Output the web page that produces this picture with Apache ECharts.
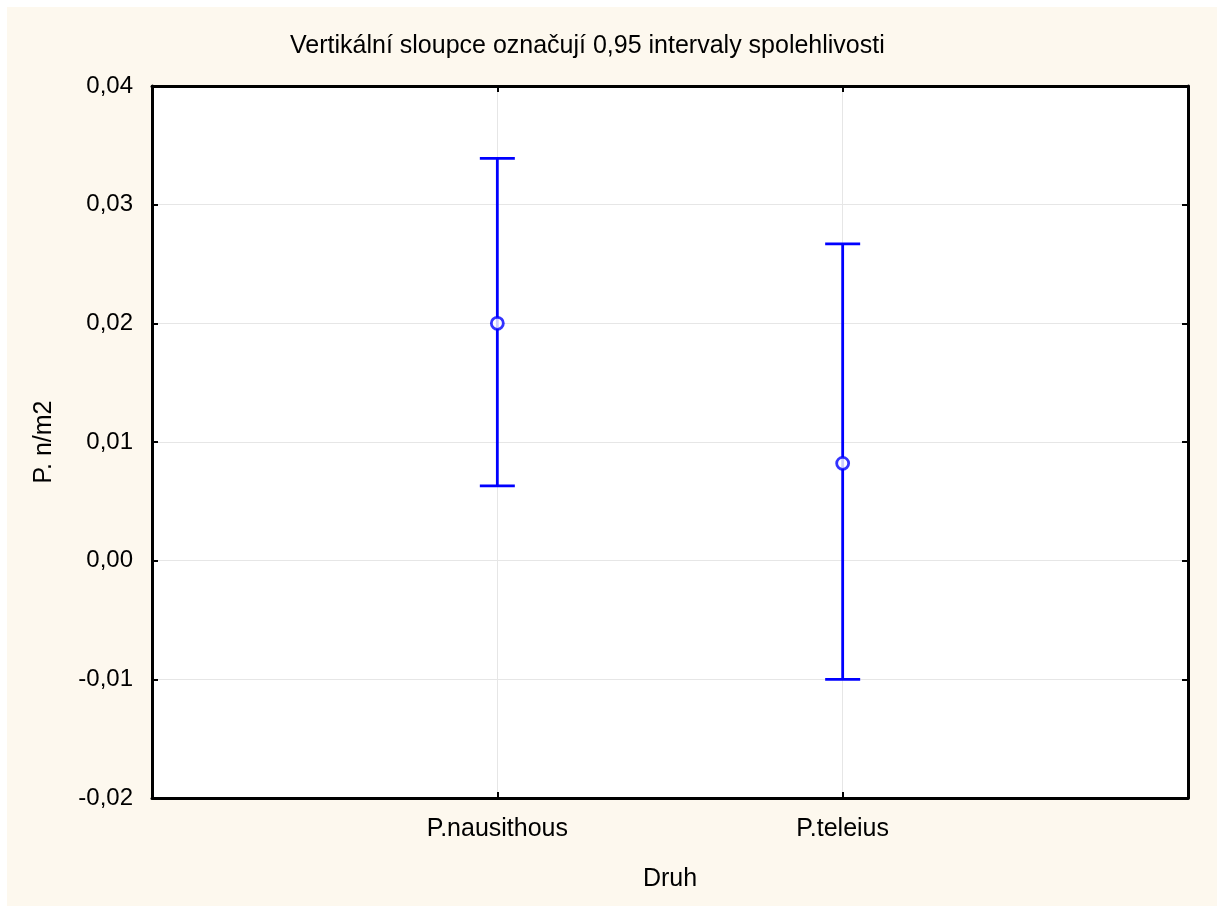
<!DOCTYPE html>
<html>
<head>
<meta charset="utf-8">
<script src="https://cdn.jsdelivr.net/npm/echarts@6/dist/echarts.min.js"></script>
<style>
html,body{margin:0;padding:0;background:#ffffff;}
#chart{position:absolute;left:7px;top:7px;width:1210px;height:899px;background:#fdf8ee;}
</style>
</head>
<body>
<div id="chart"></div>
<script>
var categories = ['P.nausithous', 'P.teleius'];
var means = [0.0200, 0.0082];
var lower = [0.0063, -0.0100];
var upper = [0.0339, 0.0267];
var yTicks = [-0.02, -0.01, 0.00, 0.01, 0.02, 0.03, 0.04];

var chart = echarts.init(document.getElementById('chart'));
var FONT = 'Liberation Sans, Arial, sans-serif';
var blue = '#0000ff';

function fmt(v){ return (Math.abs(v) < 1e-9 ? 0 : v).toFixed(2).replace('.', ','); }

var pts = categories.map(function(c, i){ return [i + 1, means[i]]; });
var bars = categories.map(function(c, i){ return [i + 1, lower[i], upper[i]]; });

var option = {
  animation: false,
  backgroundColor: '#fdf8ee',
  title: {
    text: 'Vertikální sloupce označují 0,95 intervaly spolehlivosti',
    left: 278, top: 22,
    textStyle: {fontFamily: FONT, fontSize: 25, fontWeight: 'normal', color: '#000'}
  },
  grid: {left: 145, right: 29, top: 79, bottom: 108, show: true, backgroundColor: '#ffffff', borderWidth: 0},
  xAxis: [{
    type: 'value', min: 0, max: 3, interval: 1,
    name: 'Druh', nameLocation: 'middle', nameGap: 69,
    nameTextStyle: {fontFamily: FONT, fontSize: 25, color: '#000'},
    axisLine: {show: true, onZero: false, lineStyle: {color: '#000', width: 3}},
    axisTick: {show: true, inside: true, length: 6, lineStyle: {color: '#000', width: 2}},
    axisLabel: {
      margin: 19, fontFamily: FONT, fontSize: 25, color: '#000',
      formatter: function(v){ var i = Math.round(v) - 1; return (i >= 0 && i < categories.length && Math.abs(v - Math.round(v)) < 1e-9) ? categories[i] : ''; }
    },
    splitLine: {show: true, lineStyle: {color: '#e6e6e6', width: 1}}
  }, {
    type: 'value', min: 0, max: 3, interval: 1, position: 'top',
    axisLine: {show: true, onZero: false, lineStyle: {color: '#000', width: 3}},
    axisTick: {show: true, inside: true, length: 6, lineStyle: {color: '#000', width: 2}},
    axisLabel: {show: false}, splitLine: {show: false}
  }],
  yAxis: [{
    type: 'value', min: yTicks[0], max: yTicks[yTicks.length - 1], interval: 0.01,
    name: 'P. n/m2', nameLocation: 'middle', nameGap: 95,
    nameTextStyle: {fontFamily: FONT, fontSize: 25, color: '#000'},
    axisLine: {show: true, onZero: false, lineStyle: {color: '#000', width: 3}},
    axisTick: {show: true, inside: true, length: 6, lineStyle: {color: '#000', width: 2}},
    axisLabel: {margin: 19, fontFamily: FONT, fontSize: 24, color: '#000', formatter: fmt},
    splitLine: {show: true, lineStyle: {color: '#e6e6e6', width: 1}}
  }, {
    type: 'value', min: yTicks[0], max: yTicks[yTicks.length - 1], interval: 0.01, position: 'right',
    axisLine: {show: true, onZero: false, lineStyle: {color: '#000', width: 3}},
    axisTick: {show: true, inside: true, length: 6, lineStyle: {color: '#000', width: 2}},
    axisLabel: {show: false}, splitLine: {show: false}
  }],
  series: [{
    type: 'custom',
    data: bars,
    renderItem: function(params, api){
      var x = api.value(0);
      var lo = api.coord([x, api.value(1)]);
      var hi = api.coord([x, api.value(2)]);
      var hw = 17.5;
      var st = {stroke: blue, lineWidth: 2.8, fill: null};
      return {type: 'group', children: [
        {type: 'line', shape: {x1: lo[0], y1: lo[1], x2: hi[0], y2: hi[1]}, style: st},
        {type: 'line', shape: {x1: lo[0] - hw, y1: lo[1], x2: lo[0] + hw, y2: lo[1]}, style: st},
        {type: 'line', shape: {x1: hi[0] - hw, y1: hi[1], x2: hi[0] + hw, y2: hi[1]}, style: st}
      ]};
    },
    z: 2
  }, {
    type: 'scatter',
    data: pts,
    symbol: 'circle', symbolSize: 12,
    itemStyle: {color: '#ffffff', borderColor: blue, borderWidth: 2.8},
    z: 3
  }]
};
chart.setOption(option);
</script>
</body>
</html>
